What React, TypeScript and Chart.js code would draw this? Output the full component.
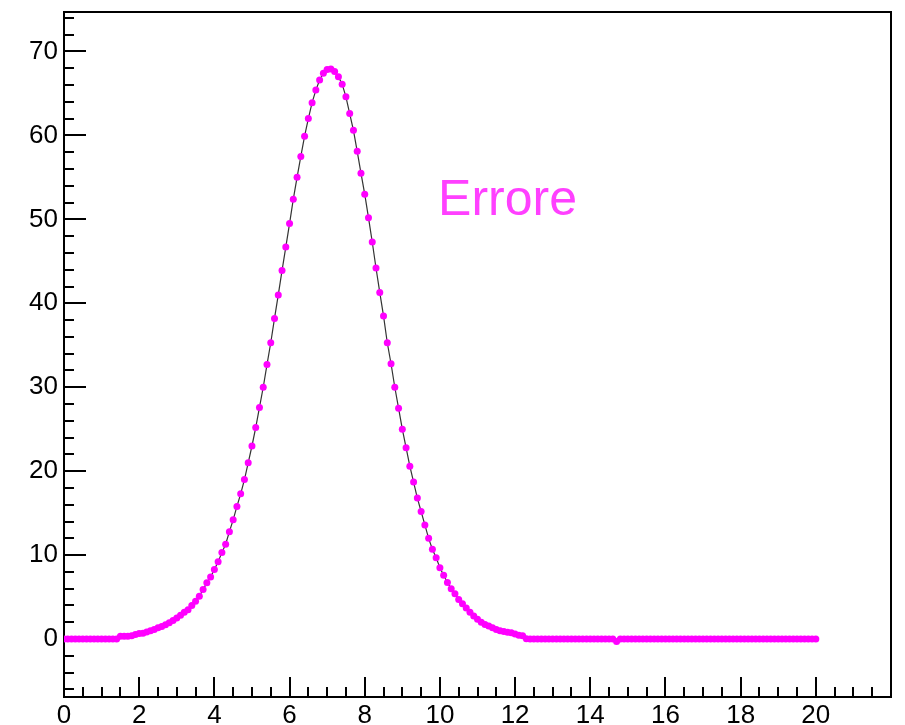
import React, { useEffect, useRef } from "react";
import { Chart, registerables } from "chart.js";

Chart.register(...registerables);

// Sample positions along the horizontal axis
const xValues = [
  0, 0.1, 0.2, 0.3, 0.4, 0.5, 0.6, 0.7, 0.8, 0.9,
  1, 1.1, 1.2, 1.3, 1.4, 1.5, 1.6, 1.7, 1.8, 1.9,
  2, 2.1, 2.2, 2.3, 2.4, 2.5, 2.6, 2.7, 2.8, 2.9,
  3, 3.1, 3.2, 3.3, 3.4, 3.5, 3.6, 3.7, 3.8, 3.9,
  4, 4.1, 4.2, 4.3, 4.4, 4.5, 4.6, 4.7, 4.8, 4.9,
  5, 5.1, 5.2, 5.3, 5.4, 5.5, 5.6, 5.7, 5.8, 5.9,
  6, 6.1, 6.2, 6.3, 6.4, 6.5, 6.6, 6.7, 6.8, 6.9,
  7, 7.1, 7.2, 7.3, 7.4, 7.5, 7.6, 7.7, 7.8, 7.9,
  8, 8.1, 8.2, 8.3, 8.4, 8.5, 8.6, 8.7, 8.8, 8.9,
  9, 9.1, 9.2, 9.3, 9.4, 9.5, 9.6, 9.7, 9.8, 9.9,
  10, 10.1, 10.2, 10.3, 10.4, 10.5, 10.6, 10.7, 10.8, 10.9,
  11, 11.1, 11.2, 11.3, 11.4, 11.5, 11.6, 11.7, 11.8, 11.9,
  12, 12.1, 12.2, 12.3, 12.4, 12.5, 12.6, 12.7, 12.8, 12.9,
  13, 13.1, 13.2, 13.3, 13.4, 13.5, 13.6, 13.7, 13.8, 13.9,
  14, 14.1, 14.2, 14.3, 14.4, 14.5, 14.6, 14.7, 14.8, 14.9,
  15, 15.1, 15.2, 15.3, 15.4, 15.5, 15.6, 15.7, 15.8, 15.9,
  16, 16.1, 16.2, 16.3, 16.4, 16.5, 16.6, 16.7, 16.8, 16.9,
  17, 17.1, 17.2, 17.3, 17.4, 17.5, 17.6, 17.7, 17.8, 17.9,
  18, 18.1, 18.2, 18.3, 18.4, 18.5, 18.6, 18.7, 18.8, 18.9,
  19, 19.1, 19.2, 19.3, 19.4, 19.5, 19.6, 19.7, 19.8, 19.9,
  20,
];

// Measured values at each sample position
const yValues = [
  0, 0, 0, 0, 0, 0, 0, 0, 0, 0,
  0, 0, 0, 0, 0, 0.35, 0.35, 0.35, 0.4, 0.55,
  0.65, 0.7, 0.85, 1.0, 1.15, 1.35, 1.5, 1.7, 1.95, 2.2,
  2.5, 2.85, 3.2, 3.5, 4.0, 4.5, 5.1, 5.9, 6.7, 7.4,
  8.3, 9.2, 10.3, 11.3, 12.8, 14.2, 15.8, 17.3, 19.0, 21.0,
  23.0, 25.2, 27.6, 30.0, 32.7, 35.3, 38.2, 41.0, 43.9, 46.7,
  49.5, 52.4, 55.0, 57.5, 59.9, 62.0, 63.9, 65.4, 66.6, 67.4,
  67.85, 67.9, 67.6, 67.0, 66.1, 64.6, 62.6, 60.6, 58.1, 55.5,
  53.0, 50.2, 47.3, 44.2, 41.3, 38.5, 35.3, 32.8, 30.0, 27.5,
  25.0, 22.8, 20.6, 18.7, 16.8, 15.2, 13.6, 12.0, 10.7, 9.7,
  8.5, 7.6, 6.75, 6.0, 5.4, 4.7, 4.2, 3.7, 3.2, 2.75,
  2.35, 2.0, 1.75, 1.55, 1.35, 1.15, 1.0, 0.9, 0.8, 0.75,
  0.6, 0.45, 0.4, 0.05, 0, 0, 0, 0, 0, 0,
  0, 0, 0, 0, 0, 0, 0, 0, 0, 0,
  0, 0, 0, 0, 0, 0, 0, -0.3, 0, 0,
  0, 0, 0, 0, 0, 0, 0, 0, 0, 0,
  0, 0, 0, 0, 0, 0, 0, 0, 0, 0,
  0, 0, 0, 0, 0, 0, 0, 0, 0, 0,
  0, 0, 0, 0, 0, 0, 0, 0, 0, 0,
  0, 0, 0, 0, 0, 0, 0, 0, 0, 0,
  0,
];

// Axis tick values (labelled major ticks and unlabelled minor ticks)
const xMajorTicks = [0, 2, 4, 6, 8, 10, 12, 14, 16, 18, 20, 22];
const xLabelTicks = [0, 2, 4, 6, 8, 10, 12, 14, 16, 18, 20];
const xMinorTicks = [
  0.5, 1, 1.5, 2.5, 3, 3.5, 4.5, 5, 5.5, 6.5, 7, 7.5, 8.5, 9, 9.5,
  10.5, 11, 11.5, 12.5, 13, 13.5, 14.5, 15, 15.5, 16.5, 17, 17.5,
  18.5, 19, 19.5, 20.5, 21, 21.5,
];
const yMajorTicks = [0, 10, 20, 30, 40, 50, 60, 70];
const yMinorTicks = [
  -6, -4, -2, 2, 4, 6, 8, 12, 14, 16, 18, 22, 24, 26, 28, 32, 34, 36, 38,
  42, 44, 46, 48, 52, 54, 56, 58, 62, 64, 66, 68, 72, 74,
];

const X_MIN = 0;
const X_MAX = 22;
const Y_MIN = -6.9;
const Y_MAX = 74.7;

const TITLE_TEXT = "Errore";
const TITLE_AT_X = 9.95;
const TITLE_AT_Y = 50.5;

const FONT_FAMILY = '"Liberation Sans", Arial, Helvetica, sans-serif';

// Draws the closed frame with inward-pointing ticks, and the text label
const framePlugin = {
  id: "frameAndTicks",
  beforeDatasetsDraw(chart: any) {
    const { ctx, chartArea } = chart;
    const xs = chart.scales.x;
    const ys = chart.scales.y;
    const { left, right, top, bottom } = chartArea;
    ctx.save();
    ctx.strokeStyle = "#000";
    ctx.lineWidth = 2;
    ctx.lineCap = "butt";
    ctx.beginPath();
    ctx.rect(left, top, right - left, bottom - top);
    ctx.stroke();

    ctx.beginPath();
    for (const v of xMajorTicks) {
      const px = Math.round(xs.getPixelForValue(v));
      ctx.moveTo(px, bottom);
      ctx.lineTo(px, bottom - 20);
    }
    for (const v of xMinorTicks) {
      const px = Math.round(xs.getPixelForValue(v));
      ctx.moveTo(px, bottom);
      ctx.lineTo(px, bottom - 10);
    }
    for (const v of yMajorTicks) {
      const py = Math.round(ys.getPixelForValue(v));
      ctx.moveTo(left, py);
      ctx.lineTo(left + 22, py);
    }
    for (const v of yMinorTicks) {
      const py = Math.round(ys.getPixelForValue(v));
      ctx.moveTo(left, py);
      ctx.lineTo(left + 10, py);
    }
    ctx.stroke();
    ctx.restore();
  },
  afterDraw(chart: any) {
    const { ctx } = chart;
    const xs = chart.scales.x;
    const ys = chart.scales.y;
    ctx.save();
    ctx.font = `50px ${FONT_FAMILY}`;
    ctx.fillStyle = "#ff40ff";
    ctx.textAlign = "left";
    ctx.textBaseline = "alphabetic";
    ctx.fillText(TITLE_TEXT, xs.getPixelForValue(TITLE_AT_X), ys.getPixelForValue(TITLE_AT_Y));
    ctx.restore();
  },
};

export default function App() {
  const canvasRef = useRef<HTMLCanvasElement | null>(null);

  useEffect(() => {
    const canvas = canvasRef.current;
    if (!canvas) return;
    const points = xValues.map((x, i) => ({ x, y: yValues[i] }));
    const tickFont = { family: FONT_FAMILY, size: 26 };

    const chart = new Chart(canvas, {
      type: "line",
      data: {
        datasets: [
          {
            data: points,
            borderColor: "rgba(40,40,40,0.95)",
            borderWidth: 1.2,
            pointRadius: 3.5,
            pointBorderWidth: 0,
            pointBackgroundColor: "#ff00ff",
            pointBorderColor: "#ff00ff",
            tension: 0,
            fill: false,
          },
        ],
      },
      options: {
        animation: false,
        responsive: false,
        maintainAspectRatio: false,
        events: [],
        layout: { padding: { top: 12, right: 14, left: 0, bottom: 0 } },
        plugins: {
          legend: { display: false },
          tooltip: { enabled: false },
          title: { display: false },
        },
        scales: {
          x: {
            type: "linear",
            min: X_MIN,
            max: X_MAX,
            grid: { display: false, drawTicks: false },
            border: { display: false },
            afterBuildTicks: (s: any) => {
              s.ticks = xLabelTicks.map((v) => ({ value: v }));
            },
            afterFit: (s: any) => {
              s.height = 28;
              s.paddingLeft = 0;
              s.paddingRight = 0;
            },
            ticks: {
              font: tickFont,
              color: "#000",
              padding: 3,
              maxRotation: 0,
              autoSkip: false,
              callback: (v: any) => String(v),
            },
          },
          y: {
            type: "linear",
            min: Y_MIN,
            max: Y_MAX,
            grid: { display: false, drawTicks: false },
            border: { display: false },
            afterBuildTicks: (s: any) => {
              s.ticks = yMajorTicks.map((v) => ({ value: v }));
            },
            afterFit: (s: any) => {
              s.width = 64;
              s.paddingTop = 0;
              s.paddingBottom = 0;
            },
            ticks: {
              font: tickFont,
              color: "#000",
              padding: 6,
              autoSkip: false,
              callback: (v: any) => String(v),
            },
          },
        },
      },
      plugins: [framePlugin],
    });

    return () => {
      chart.destroy();
    };
  }, []);

  return (
    <div
      style={{
        position: "absolute",
        left: 0,
        top: 0,
        width: 905,
        height: 725,
        overflow: "hidden",
        background: "#fff",
      }}
    >
      <canvas ref={canvasRef} width={905} height={725} style={{ display: "block" }} />
    </div>
  );
}
